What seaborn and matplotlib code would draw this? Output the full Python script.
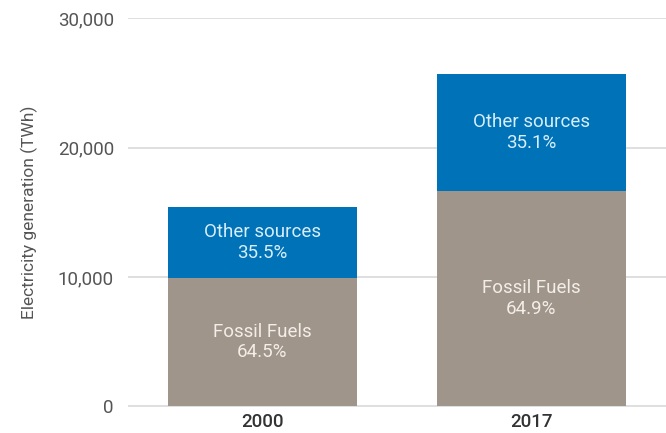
import pandas as pd
import seaborn as sns
import matplotlib.pyplot as plt
from matplotlib.ticker import FuncFormatter

# Data (TWh)
years = ['2000', '2017']
fossil = [9946, 16650]
other = [5474, 9000]
fossil_pct = ['64.5%', '64.9%']
other_pct = ['35.5%', '35.1%']

total = [f + o for f, o in zip(fossil, other)]
df = pd.DataFrame({'year': years, 'fossil': fossil, 'total': total})

sns.set_style('white')
plt.rcParams['font.family'] = ['Roboto', 'DejaVu Sans']

fig = plt.figure(figsize=(6.66, 4.33), dpi=100, facecolor='white')
ax = fig.add_axes([0.192, 0.060, 0.808, 0.898])

# Stacked bars: total (other on top) then fossil over it
sns.barplot(data=df, x='year', y='total', color='#0072b8', width=0.7,
            saturation=1, linewidth=0, ax=ax, zorder=2)
sns.barplot(data=df, x='year', y='fossil', color='#a0958a', width=0.7,
            saturation=1, linewidth=0, ax=ax, zorder=3)

# Labels in the segments
for i in range(len(years)):
    ax.text(i, fossil[i] + other[i] / 2, 'Other sources\n' + other_pct[i],
            ha='center', va='center', color='#d8eefa', fontsize=13.5,
            linespacing=1.2, zorder=4)
    ax.text(i, fossil[i] / 2, 'Fossil Fuels\n' + fossil_pct[i],
            ha='center', va='center', color='#f3eee8', fontsize=13.5,
            linespacing=1.2, zorder=4)

ax.set_ylim(-60, 30000)
ax.set_xlim(-0.5, 1.5)
ax.set_yticks([0, 10000, 20000, 30000])
ax.yaxis.set_major_formatter(FuncFormatter(lambda v, p: f'{int(v):,}'))
ax.grid(axis='y', color='#d9d9d9', linewidth=1.2, zorder=0)
ax.set_axisbelow(True)
for s in ax.spines.values():
    s.set_visible(False)
ax.tick_params(axis='y', length=0, pad=10, labelsize=13.5, labelcolor='#555555')
ax.tick_params(axis='x', length=0, pad=4, labelsize=13.5, labelcolor='#333333')
for t in ax.get_xticklabels():
    t.set_fontweight('medium')
ax.set_xlabel('')
ax.set_ylabel('Electricity generation (TWh)', fontsize=12.5, color='#555555',
              labelpad=14)

plt.savefig('out.png', dpi=100)
